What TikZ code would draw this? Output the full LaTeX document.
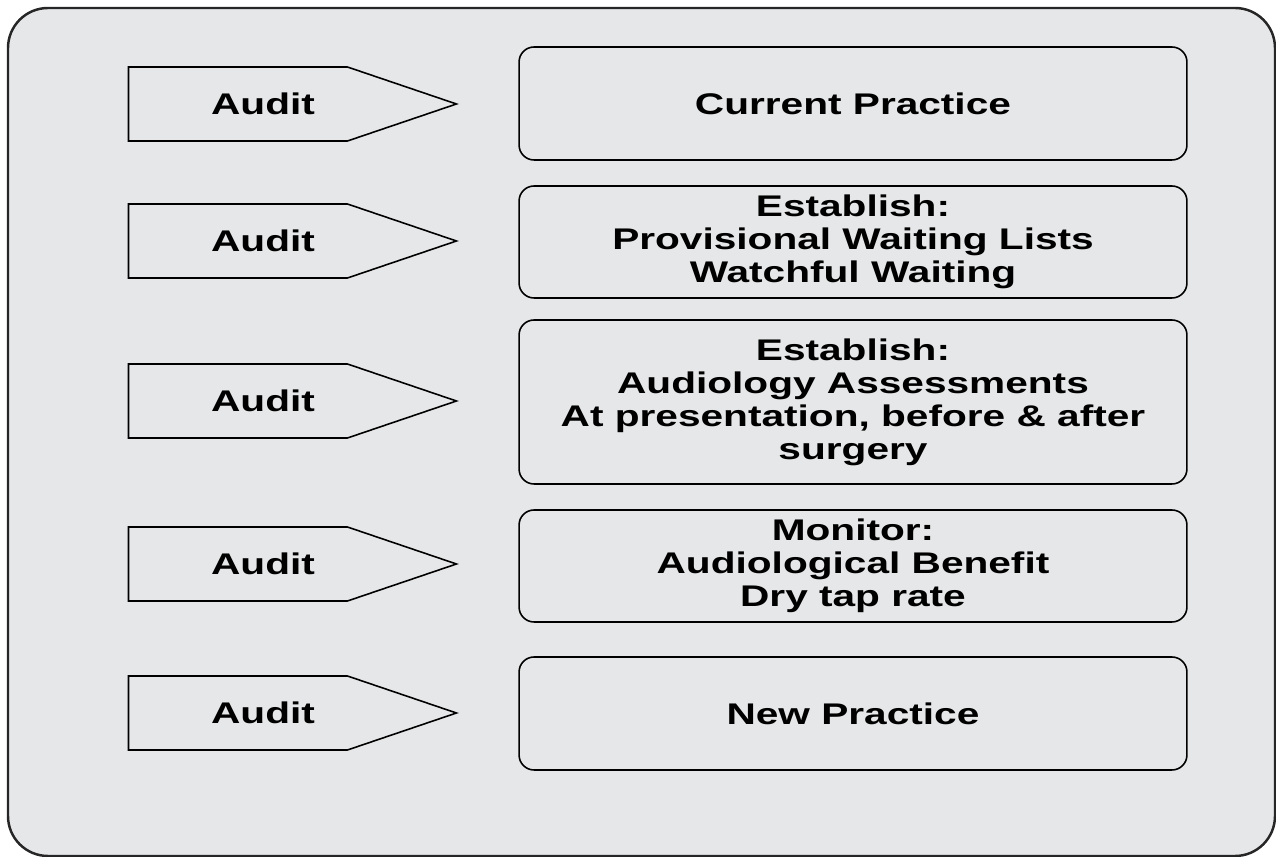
\documentclass[tikz,border=0pt]{standalone}
\usepackage{fontspec}
\setmainfont[FakeStretch=1.36]{Liberation Sans}
\usetikzlibrary{shapes.symbols}

\definecolor{panelgray}{HTML}{E6E7E8}

\tikzset{
    frame/.style={draw=black!85,line width=1.4pt,fill=panelgray,rounded corners=0.8cm},
    stepbox/.style={draw,line width=0.9pt,rounded corners=0.3cm,minimum width=13.36cm,
        align=center,font=\fontsize{17}{18.8}\selectfont\bfseries},
    auditarrow/.style={signal,signal to=east,signal pointer angle=37.5,draw,line width=0.9pt,
        minimum width=6.56cm,minimum height=1.48cm,
        label={[font=\fontsize{17}{18.8}\selectfont\bfseries,xshift=0.5cm]center:Audit}}
}

\begin{document}
\begin{tikzpicture}[x=0.02cm,y=-0.02cm]
\useasboundingbox (0,0) rectangle (1276,857);

% background panel
\draw[frame] (8,8) rectangle (1275,856);

% steps on the right
\node[stepbox,minimum height=2.26cm] (current) at (853,103.5) {Current Practice};
\node[stepbox,minimum height=2.24cm] (waiting) at (853,242) {Establish:\\Provisional Waiting Lists\\Watchful Waiting};
\node[stepbox,minimum height=3.28cm] (assess) at (853,402) {Establish:\\Audiology Assessments\\At presentation, before \& after\\surgery};
\node[stepbox,minimum height=2.24cm] (monitor) at (853,566) {Monitor:\\Audiological Benefit\\Dry tap rate};
\node[stepbox,minimum height=2.26cm] (new) at (853,713.5) {New Practice};

% audit arrows on the left
\node[auditarrow] (audit1) at (238,104) {};
\node[auditarrow] (audit2) at (238,241) {};
\node[auditarrow] (audit3) at (238,401) {};
\node[auditarrow] (audit4) at (238,564) {};
\node[auditarrow] (audit5) at (238,713) {};

\end{tikzpicture}
\end{document}
